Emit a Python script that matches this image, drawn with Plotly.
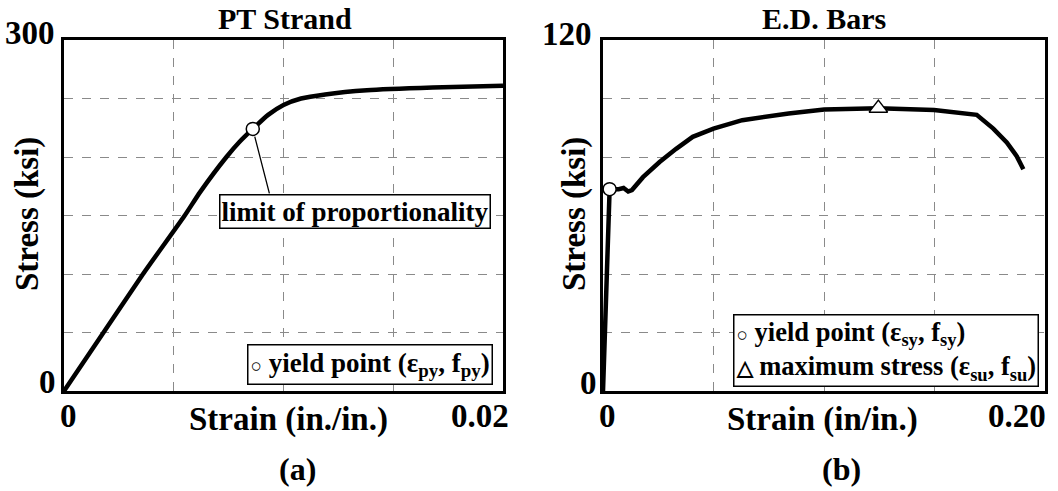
import plotly.graph_objects as go

# ---------------- data ----------------
strain_pt = [0, 0.0018, 0.0036, 0.0055, 0.0062, 0.0074, 0.0080, 0.0086, 0.0093, 0.0100, 0.0108, 0.0119, 0.0138, 0.0168, 0.0200]
stress_pt = [0, 50, 100, 150, 170, 200, 213, 224, 236, 244.5, 250, 253.5, 257, 259.3, 260.8]
yield_pt = [0.0086, 224]

strain_ed = [0, 0.0030, 0.0071, 0.0093, 0.0114, 0.0131, 0.0181, 0.0256, 0.0331, 0.0406, 0.0500, 0.0630,
             0.0840, 0.1001, 0.1246, 0.1498, 0.1691, 0.1766, 0.1827, 0.1872, 0.1902]
stress_ed = [0, 69.0, 69.0, 69.4, 68.2, 68.7, 73.1, 78.3, 82.8, 86.9, 89.7, 92.6,
             94.9, 96.2, 96.7, 96.1, 94.4, 89.7, 85.0, 80.3, 75.8]
yield_ed = [0.0030, 69.0]
max_ed = [0.1246, 96.7]

titles = ["PT Strand", "E.D. Bars"]
xlabels = ["Strain (in./in.)", "Strain (in/in.)"]
ylabel = "Stress (ksi)"
panel_labels = ["(a)", "(b)"]

FONT = "Liberation Serif, Times New Roman, serif"
W, H = 1058, 491

def px(x):
    return x / W

def py(y):
    return 1 - y / H

fig = go.Figure()

fig.add_trace(go.Scatter(x=strain_pt, y=stress_pt, mode="lines",
                         line=dict(color="black", width=4.5, shape="spline", smoothing=0.6),
                         xaxis="x", yaxis="y", showlegend=False, hoverinfo="skip"))
fig.add_trace(go.Scatter(x=[yield_pt[0]], y=[yield_pt[1]], mode="markers",
                         marker=dict(symbol="circle", size=13, color="white", line=dict(color="black", width=1.5)),
                         xaxis="x", yaxis="y", showlegend=False, hoverinfo="skip"))

fig.add_trace(go.Scatter(x=strain_ed, y=stress_ed, mode="lines", line=dict(color="black", width=4.5),
                         xaxis="x2", yaxis="y2", showlegend=False, hoverinfo="skip"))
fig.add_trace(go.Scatter(x=[yield_ed[0]], y=[yield_ed[1]], mode="markers",
                         marker=dict(symbol="circle", size=13, color="white", line=dict(color="black", width=1.5)),
                         xaxis="x2", yaxis="y2", showlegend=False, hoverinfo="skip"))
fig.add_trace(go.Scatter(x=[max_ed[0]], y=[max_ed[1]], mode="markers",
                         marker=dict(symbol="triangle-up", size=16, color="white", line=dict(color="black", width=1.5)),
                         xaxis="x2", yaxis="y2", showlegend=False, hoverinfo="skip"))

axis_common = dict(showticklabels=False, ticks="", showgrid=True, gridcolor="#8a8a8a", griddash="dash", gridwidth=1,
                   showline=True, linecolor="black", linewidth=2.5, mirror=True, zeroline=False, fixedrange=True)

ydom = [py(391), py(40)]
fig.update_layout(
    width=W, height=H, margin=dict(l=0, r=0, t=0, b=0),
    paper_bgcolor="white", plot_bgcolor="white",
    font=dict(family=FONT, color="black"),
    xaxis=dict(domain=[px(64), px(503)], range=[0, 0.02], tick0=0, dtick=0.005, anchor="y", **axis_common),
    yaxis=dict(domain=ydom, range=[0, 300], tick0=0, dtick=50, anchor="x", **axis_common),
    xaxis2=dict(domain=[px(603), px(1045)], range=[0, 0.2], tick0=0, dtick=0.05, anchor="y2", **axis_common),
    yaxis2=dict(domain=ydom, range=[0, 120], tick0=0, dtick=20, anchor="x2", **axis_common),
)

ann = []
TICK = 33
def tick(text, xr, yr, x, y, xanchor, yanchor, xs, ys):
    ann.append(dict(text=f"<b>{text}</b>", xref=xr, yref=yr, x=x, y=y, xanchor=xanchor, yanchor=yanchor,
                    xshift=xs, yshift=ys, showarrow=False, font=dict(size=TICK, family=FONT)))

# left panel ticks
tick("300", "x", "y", 0, 300, "right", "middle", -7, 7)
tick("0", "x", "y", 0, 0, "right", "middle", -6, 9)
tick("0", "x", "y", 0, 0, "center", "top", 4, -5)
tick("0.02", "x", "y", 0.02, 0, "right", "top", 8, -5)
# right panel ticks
tick("120", "x2", "y2", 0, 120, "right", "middle", -9, 6)
tick("0", "x2", "y2", 0, 0, "right", "middle", -4, 8)
tick("0", "x2", "y2", 0, 0, "center", "top", 4, -5)
tick("0.20", "x2", "y2", 0.2, 0, "right", "top", 3, -5)

# titles
for t, cx in zip(titles, [285, 824]):
    ann.append(dict(text=f"<b>{t}</b>", xref="paper", yref="paper", x=px(cx), y=py(18), xanchor="center",
                    yanchor="middle", showarrow=False, font=dict(size=30, family=FONT)))
# x labels
for t, cx in zip(xlabels, [288, 822]):
    ann.append(dict(text=f"<b>{t}</b>", xref="paper", yref="paper", x=px(cx), y=py(419), xanchor="center",
                    yanchor="middle", showarrow=False, font=dict(size=33, family=FONT)))
# y labels
for cx in [27, 574]:
    ann.append(dict(text=f"<b>{ylabel}</b>", xref="paper", yref="paper", x=px(cx), y=py(214), xanchor="center",
                    yanchor="middle", textangle=-90, showarrow=False, font=dict(size=33, family=FONT)))
# panel labels
for t, cx in zip(panel_labels, [297, 841]):
    ann.append(dict(text=f"<b>{t}</b>", xref="paper", yref="paper", x=px(cx), y=py(469), xanchor="center",
                    yanchor="middle", showarrow=False, font=dict(size=32, family=FONT)))

# limit of proportionality box + leader
ann.append(dict(text="<b>limit of proportionality</b>", xref="paper", yref="paper", x=px(355), y=py(211),
                xanchor="center", yanchor="middle", showarrow=False, font=dict(size=27, family=FONT),
                bordercolor="black", borderwidth=1.5, borderpad=1, bgcolor="white"))
ann.append(dict(text="", xref="x", yref="y", x=yield_pt[0], y=yield_pt[1], showarrow=True, arrowhead=0,
                arrowwidth=1.3, arrowcolor="black", ax=17, ay=66, standoff=8))

# legends
circ = '<span style="font-size:19px">○</span>'
tri = '<span style="font-size:21px">△</span>'
ann.append(dict(text=f"<b>{circ} yield point (ε<sub>py</sub>, f<sub>py</sub>)</b>", xref="paper", yref="paper",
                x=px(493), y=py(385), xanchor="right", yanchor="bottom", showarrow=False, align="left",
                font=dict(size=27, family=FONT), bordercolor="black", borderwidth=1.5, borderpad=2, bgcolor="white"))
ann.append(dict(text=f"<b>{circ} yield point (ε<sub>sy</sub>, f<sub>sy</sub>)<br>{tri} maximum stress (ε<sub>su</sub>, f<sub>su</sub>)</b>",
                xref="paper", yref="paper", x=px(1039), y=py(387), xanchor="right", yanchor="bottom",
                showarrow=False, align="left", font=dict(size=26.5, family=FONT),
                bordercolor="black", borderwidth=1.5, borderpad=1, bgcolor="white"))

fig.update_layout(annotations=ann)
fig.write_html("out.html")
